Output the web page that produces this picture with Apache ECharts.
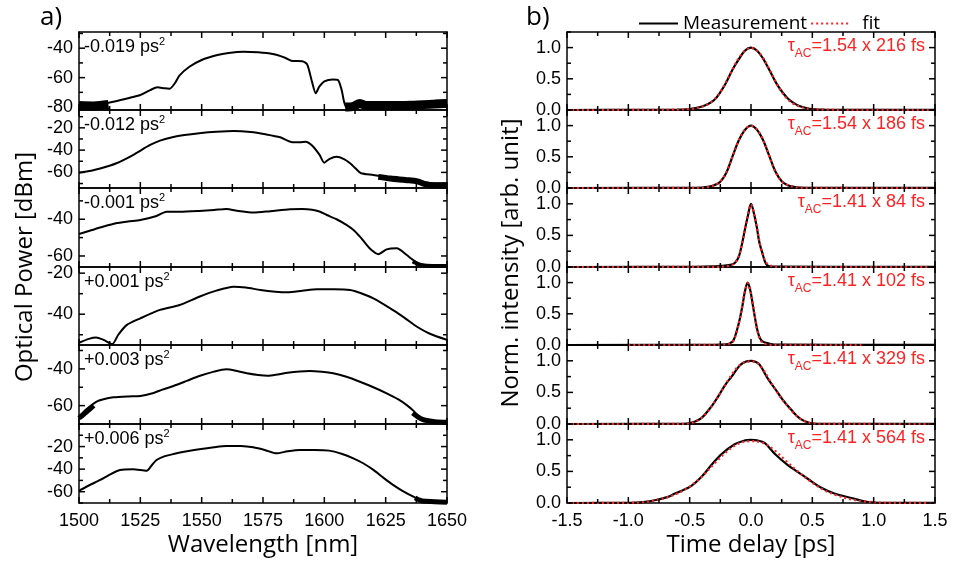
<!DOCTYPE html>
<html><head><meta charset="utf-8">
<script src="https://cdn.jsdelivr.net/npm/echarts@6/dist/echarts.min.js"></script>
<style>html,body{margin:0;padding:0;background:#fff}#c{width:953px;height:563px}</style>
</head><body><div id="c"></div>
<script>
// ---------------- DATA ----------------
const gddLabels = ['-0.019', '-0.012', '-0.001', '+0.001', '+0.003', '+0.006'];
const tauFactors = ['1.54', '1.54', '1.41', '1.41', '1.41', '1.41'];
const tauWidths = [216, 186, 84, 102, 329, 564];

const wavelengthRange = [1500, 1650];
const delayRange = [-1.5, 1.5];
const powerRanges = [[-82, -29], [-74, -4], [-66, -23], [-55, -17], [-70, -27], [-70, 0]];
const powerTickLabels = [[-80, -60, -40], [-60, -40, -20], [-60, -40], [-40, -20], [-60, -40], [-60, -40, -20]];
const intensityRange = [0, 1.25];
const intensityTickLabels = [0, 0.5, 1.0];

// spectra (wavelength nm, dBm)
const spec1 = [[1500,-78],[1505,-78],[1510,-77.5],[1515,-76],[1520,-74],[1525,-71.8],[1529,-68.5],[1532,-66.6],[1535,-67.3],[1537,-67.5],[1539,-64],[1541,-58.5],[1545,-52.6],[1550,-48],[1556,-44.8],[1561,-43.2],[1567,-42.4],[1573,-42.8],[1579,-44],[1584,-46.5],[1587,-48.7],[1591,-48.8],[1593,-51],[1595,-63],[1596.5,-70.6],[1598,-66],[1600,-62.5],[1603.5,-61.2],[1605.5,-61.5],[1607,-68],[1608,-76],[1609,-80],[1611,-80],[1613,-77],[1614.5,-76],[1616,-78.5],[1620,-79],[1630,-79],[1640,-78.5],[1650,-77.5]];
const spec2 = [[1500,-60.3],[1505,-58.5],[1509,-56.3],[1515,-52],[1522,-44.4],[1529,-35.4],[1533,-31.5],[1538,-28.5],[1543,-26.5],[1549,-24.9],[1556,-23.6],[1563,-22.9],[1570,-23.8],[1576,-25.8],[1582,-28.5],[1587,-33],[1590,-33],[1592.4,-32.4],[1595,-35.8],[1598,-44],[1600,-51.3],[1602,-48],[1605,-45.9],[1608,-48],[1610.5,-51.8],[1613,-57],[1615,-60.8],[1620,-62.3],[1625,-64],[1630,-65.5],[1635,-66.5],[1640,-68.5],[1645,-70],[1650,-70]];
const spec3 = [[1500,-48],[1505,-46],[1509,-44.4],[1515,-42.2],[1520,-41.2],[1525,-40.4],[1531.6,-38.2],[1535.7,-35.9],[1541,-35.9],[1549,-35.5],[1555,-35],[1560,-34.4],[1565,-35.5],[1571,-36.4],[1578,-35.6],[1586,-34.6],[1591,-34.4],[1595,-34.8],[1598,-35.8],[1601,-37.7],[1605,-40],[1609,-43.1],[1612,-46],[1614.5,-49.5],[1617,-53.5],[1619,-56.5],[1622,-59],[1625.4,-56.4],[1629.5,-55.8],[1633.6,-59.5],[1636,-62],[1639,-64.4],[1643,-65.5],[1650,-65.5]];
const spec4 = [[1500,-53.9],[1504,-52],[1507,-51.3],[1510,-52.5],[1513.6,-54.5],[1516,-50],[1519.4,-45.3],[1525,-42],[1533,-37.9],[1541,-35.5],[1549,-31.5],[1556,-28.5],[1563,-26.6],[1568,-27],[1574,-28.2],[1580,-29],[1585,-29.3],[1591,-28.6],[1597,-27.9],[1604,-27.9],[1610.5,-28.2],[1615,-29.8],[1620,-32.3],[1628,-38],[1633,-42],[1637.6,-46],[1643,-49.5],[1650,-52.5]];
const spec5 = [[1500,-66],[1503,-62],[1507,-57.9],[1510,-56.5],[1514,-55.5],[1520,-55],[1525,-54.8],[1530,-53.3],[1534,-51.3],[1538.5,-49.3],[1544,-46.5],[1549,-43.9],[1555,-41.5],[1560,-40.2],[1564,-41],[1568.4,-42.4],[1573,-43.3],[1577,-43.7],[1581,-43],[1585,-42.1],[1590,-41.4],[1594,-41.2],[1599,-41.6],[1603.6,-42.4],[1609,-44.3],[1614.5,-47],[1620,-50],[1625.4,-53.3],[1630,-56.5],[1633.6,-59.7],[1636.5,-63],[1639,-66.9],[1642,-68.5],[1650,-68.5]];
const spec6 = [[1500,-59.1],[1504,-54.5],[1508.6,-49.6],[1512,-45.5],[1516.7,-40.7],[1522,-40.1],[1527.6,-41.4],[1529.5,-37],[1531.6,-31.9],[1535,-28.5],[1538.5,-26.6],[1544,-24.2],[1549,-22.4],[1555,-20.6],[1560,-19.5],[1566,-19.6],[1571,-20.7],[1576,-23.2],[1580.5,-26],[1585,-24.2],[1590,-23],[1596,-23],[1602,-23.6],[1607,-26.4],[1611.8,-30.4],[1616,-35],[1620,-40.7],[1624,-47.5],[1628,-54],[1632,-59.5],[1636.3,-64.4],[1640,-68],[1645,-68.5],[1650,-69]];

// noisy floor segments (centre of the noise band)
const noise1a = [[1500,-79],[1506,-79.2],[1512,-78.3]];
const noise1b = [[1608.5,-80],[1612,-79.5],[1614.5,-77.5],[1617,-79],[1625,-79],[1635,-78.8],[1645,-78],[1650,-77.5]];
const noise2 = [[1622,-64],[1627,-65.5],[1633,-66.8],[1638,-68],[1641,-70.5],[1645,-71.5],[1650,-71.5]];
const noise3 = [[1636,-63],[1640,-65],[1650,-65.5]];
const noise5a = [[1500,-66.8],[1503,-63.5],[1506,-60]];
const noise5b = [[1636,-64],[1640,-67.5],[1645,-68.7],[1650,-69]];
const noise6 = [[1637,-65.5],[1640,-68.3],[1645,-68.8],[1650,-69.3]];

// autocorrelation traces (delay ps, normalized intensity)
const meas1 = [[-1.5,0],[-1.0,0.002],[-0.6,0.005],[-0.5,0.015],[-0.45,0.03],[-0.4,0.055],[-0.35,0.095],[-0.3,0.16],[-0.25,0.285],[-0.2,0.45],[-0.15,0.65],[-0.1,0.81],[-0.05,0.95],[0,1.0],[0.05,0.95],[0.1,0.82],[0.15,0.64],[0.2,0.45],[0.25,0.3],[0.3,0.185],[0.35,0.11],[0.4,0.06],[0.45,0.032],[0.5,0.015],[0.6,0.006],[1.0,0.003],[1.5,0.002]];
const fit1 = [[-1.5,0],[-1.0,0.001],[-0.6,0.006],[-0.5,0.016],[-0.45,0.028],[-0.4,0.052],[-0.35,0.095],[-0.3,0.17],[-0.25,0.29],[-0.2,0.46],[-0.15,0.65],[-0.1,0.83],[-0.05,0.95],[0,0.995],[0.05,0.95],[0.1,0.83],[0.15,0.65],[0.2,0.46],[0.25,0.29],[0.3,0.17],[0.35,0.095],[0.4,0.052],[0.45,0.028],[0.5,0.016],[0.6,0.006],[1.0,0.001],[1.5,0]];
const meas2 = [[-1.5,0],[-0.5,0.003],[-0.4,0.008],[-0.35,0.018],[-0.3,0.045],[-0.25,0.1],[-0.2,0.25],[-0.15,0.51],[-0.1,0.76],[-0.05,0.93],[0,1.0],[0.05,0.93],[0.1,0.76],[0.15,0.51],[0.2,0.26],[0.25,0.11],[0.3,0.045],[0.35,0.02],[0.4,0.008],[0.5,0.004],[1.5,0.002]];
const fit2 = [[-1.5,0],[-0.5,0.001],[-0.4,0.006],[-0.35,0.017],[-0.3,0.044],[-0.25,0.105],[-0.2,0.255],[-0.15,0.505],[-0.1,0.765],[-0.05,0.935],[0,0.995],[0.05,0.935],[0.1,0.765],[0.15,0.505],[0.2,0.255],[0.25,0.105],[0.3,0.044],[0.35,0.017],[0.4,0.006],[0.5,0.001],[1.5,0]];
const meas3 = [[-1.5,0],[-0.45,0.003],[-0.3,0.01],[-0.25,0.018],[-0.2,0.025],[-0.15,0.045],[-0.125,0.08],[-0.1,0.16],[-0.075,0.35],[-0.05,0.59],[-0.025,0.81],[0,1.0],[0.025,0.84],[0.05,0.6],[0.065,0.42],[0.08,0.3],[0.09,0.24],[0.1,0.17],[0.115,0.08],[0.13,0.03],[0.15,0.012],[0.2,0.005],[1.5,0.002]];
const fit3 = [[-1.5,0],[-0.3,0.002],[-0.2,0.012],[-0.15,0.04],[-0.125,0.08],[-0.1,0.17],[-0.075,0.36],[-0.05,0.6],[-0.025,0.83],[0,0.99],[0.025,0.84],[0.05,0.6],[0.075,0.35],[0.1,0.17],[0.125,0.07],[0.15,0.03],[0.2,0.005],[0.3,0],[1.5,0]];
const meas4 = [[-1.5,0],[-0.3,0.004],[-0.2,0.012],[-0.17,0.03],[-0.144,0.07],[-0.117,0.22],[-0.09,0.43],[-0.068,0.65],[-0.049,0.865],[-0.027,1.0],[-0.005,0.87],[0.014,0.65],[0.033,0.43],[0.054,0.22],[0.075,0.1],[0.1,0.05],[0.14,0.027],[0.21,0.005],[1.5,0.002]];
const fit4 = [[-1.0,0],[-0.3,0.001],[-0.2,0.01],[-0.15,0.05],[-0.117,0.21],[-0.09,0.43],[-0.068,0.66],[-0.049,0.86],[-0.027,0.99],[-0.005,0.86],[0.014,0.66],[0.033,0.43],[0.054,0.21],[0.08,0.07],[0.11,0.02],[0.2,0.002],[0.9,0]];
const meas5 = [[-1.5,0],[-0.6,0.002],[-0.55,0.004],[-0.5,0.015],[-0.45,0.045],[-0.4,0.1],[-0.334,0.25],[-0.3,0.34],[-0.266,0.44],[-0.21,0.62],[-0.158,0.75],[-0.09,0.93],[-0.04,0.99],[0,1.0],[0.04,0.98],[0.073,0.93],[0.14,0.71],[0.21,0.52],[0.26,0.38],[0.33,0.22],[0.4,0.085],[0.48,0.015],[0.55,0.004],[1.5,0.002]];
const fit5 = [[-1.5,0],[-0.6,0.001],[-0.5,0.012],[-0.45,0.04],[-0.4,0.1],[-0.35,0.2],[-0.3,0.34],[-0.25,0.49],[-0.2,0.65],[-0.15,0.8],[-0.1,0.92],[-0.05,0.98],[0,0.99],[0.05,0.97],[0.1,0.86],[0.15,0.7],[0.2,0.54],[0.25,0.4],[0.3,0.28],[0.35,0.17],[0.4,0.085],[0.45,0.035],[0.5,0.012],[0.6,0.002],[1.5,0]];
const meas6 = [[-1.5,0],[-1.0,0.002],[-0.95,0.005],[-0.88,0.015],[-0.785,0.043],[-0.677,0.097],[-0.62,0.15],[-0.568,0.19],[-0.486,0.27],[-0.405,0.41],[-0.323,0.6],[-0.242,0.77],[-0.133,0.93],[-0.05,0.99],[0,1.0],[0.05,0.99],[0.111,0.95],[0.193,0.78],[0.3,0.6],[0.383,0.49],[0.465,0.38],[0.573,0.24],[0.68,0.15],[0.818,0.08],[0.954,0.016],[1.09,0.003],[1.5,0.002]];
const fit6 = [[-1.5,0],[-1.0,0.003],[-0.9,0.01],[-0.8,0.035],[-0.7,0.08],[-0.6,0.15],[-0.5,0.26],[-0.4,0.42],[-0.3,0.62],[-0.2,0.81],[-0.1,0.94],[0,0.98],[0.1,0.95],[0.2,0.82],[0.3,0.64],[0.4,0.47],[0.5,0.32],[0.6,0.2],[0.7,0.12],[0.8,0.065],[0.9,0.03],[1.0,0.012],[1.1,0.004],[1.5,0]];

const spectra = [spec1, spec2, spec3, spec4, spec5, spec6];
const noiseSets = [[noise1a, noise1b], [noise2], [noise3], [], [noise5a, noise5b], [noise6]];
const measurements = [meas1, meas2, meas3, meas4, meas5, meas6];
const fits = [fit1, fit2, fit3, fit4, fit5, fit6];

// ---------------- CHART ----------------
const NUM = 'Liberation Sans, Arial, sans-serif';
const TXT = 'Open Sans, Liberation Sans, sans-serif';
const INK = '#000';
const RED = '#ff2222';
const EDGES = [32, 110, 188, 267, 345, 424, 503];
const PW = 368;
const noiseWidths = [[9, 9], [6], [4], [], [5, 5], [5]];

const grids = [], xAxes = [], yAxes = [], series = [], graphics = [];

function ax(g, pos, extra) {
  return Object.assign({
    gridIndex: g, position: pos, type: 'value',
    axisLine: { show: false, onZero: false, lineStyle: { color: INK, width: 1.5 } },
    splitLine: { show: false },
    axisTick: { show: false },
    minorTick: { show: false },
    axisLabel: { show: false }
  }, extra);
}
function lineOn() { return { show: true, onZero: false, lineStyle: { color: INK, width: 1.5 } }; }

function addPanel(left, top, height, xr, xInterval, xFmt, yr, yMajor, yFmt, showX) {
  const g = grids.length;
  grids.push({ left: left, top: top, width: PW, height: height });
  const xScale = { min: xr[0], max: xr[1], interval: xInterval };
  const xbi = xAxes.length;
  xAxes.push(ax(g, 'bottom', Object.assign({}, xScale, {
    axisLine: lineOn(),
    axisLabel: showX ? { show: true, formatter: xFmt, fontFamily: NUM, fontSize: 18, color: '#000', margin: 9 } : { show: false }
  })));
  xAxes.push(ax(g, 'top', Object.assign({}, xScale, { axisLine: lineOn() })));
  const yScale = { min: yr[0], max: yr[1] };
  const yli = yAxes.length;
  yAxes.push(ax(g, 'left', Object.assign({}, yScale, {
    axisLine: lineOn(),
    axisLabel: { show: true, customValues: yMajor, formatter: yFmt, fontFamily: NUM, fontSize: 18, color: '#000', margin: 6 }
  })));
  yAxes.push(ax(g, 'right', Object.assign({}, yScale, { axisLine: lineOn() })));

  // inward tick marks on all four edges, placed through the panel's own scales
  const ticks = [];
  const xStep = xInterval / 2;
  const nx = Math.round((xr[1] - xr[0]) / xStep);
  for (let k = 0; k <= nx; k++) {
    const v = +(xr[0] + k * xStep).toFixed(4);
    const len = k % 2 === 0 ? 6 : 4;
    ticks.push({ value: [v, yr[0]], symbolSize: [1.5, len], symbolOffset: [0, -len / 2] });
    ticks.push({ value: [v, yr[1]], symbolSize: [1.5, len], symbolOffset: [0, len / 2] });
  }
  const yStep = (yMajor[1] - yMajor[0]) / 2;
  for (let v = Math.ceil(yr[0] / yStep - 1e-9) * yStep; v <= yr[1] + 1e-9; v += yStep) {
    const val = +v.toFixed(4);
    const len = yMajor.some(m => Math.abs(m - val) < 1e-9) ? 6 : 4;
    ticks.push({ value: [xr[0], val], symbolSize: [len, 1.5], symbolOffset: [len / 2, 0] });
    ticks.push({ value: [xr[1], val], symbolSize: [len, 1.5], symbolOffset: [-len / 2, 0] });
  }
  series.push({
    type: 'scatter', xAxisIndex: xbi, yAxisIndex: yli, data: ticks, symbol: 'rect',
    itemStyle: { color: INK, opacity: 1 }, clip: false, silent: true, z: 6
  });
  return { x: xbi, y: yli };
}

for (let i = 0; i < 6; i++) {
  const top = EDGES[i], h = EDGES[i + 1] - EDGES[i];
  // ---- left panel (spectra)
  const a = addPanel(79, top, h, wavelengthRange, 25, v => String(v), powerRanges[i], powerTickLabels[i], v => String(v), i === 5);
  series.push({
    type: 'line', xAxisIndex: a.x, yAxisIndex: a.y, data: spectra[i], symbol: 'none', smooth: 0.25,
    lineStyle: { color: '#000', width: 2 }, clip: true, silent: true
  });
  noiseSets[i].forEach((nd, k) => {
    series.push({
      type: 'line', xAxisIndex: a.x, yAxisIndex: a.y, data: nd, symbol: 'none', smooth: 0.3,
      lineStyle: { color: '#000', width: noiseWidths[i][k] }, clip: true, silent: true
    });
  });
  graphics.push({
    type: 'text', x: 84, y: top + 15.5,
    style: {
      text: '{a|' + gddLabels[i] + ' ps}{s|2}', fill: '#000',
      align: 'left', verticalAlign: 'middle', textAlign: 'left', textVerticalAlign: 'middle',
      rich: {
        a: { fontFamily: NUM, fontSize: 18, lineHeight: 22, fill: '#000' },
        s: { fontFamily: NUM, fontSize: 11, lineHeight: 16, verticalAlign: 'top', fill: '#000' }
      }
    }
  });
  // ---- right panel (autocorrelation)
  const b = addPanel(567, top, h, delayRange, 0.5, v => v.toFixed(1), intensityRange, intensityTickLabels, v => v.toFixed(1), i === 5);
  series.push({
    name: 'Measurement', type: 'line', xAxisIndex: b.x, yAxisIndex: b.y, data: measurements[i], symbol: 'none', smooth: 0.35,
    lineStyle: { color: '#000', width: 2.2 }, itemStyle: { color: '#000' }, clip: true, z: 2
  });
  series.push({
    name: 'fit', type: 'line', xAxisIndex: b.x, yAxisIndex: b.y, data: fits[i], symbol: 'none', smooth: 0.35,
    lineStyle: { color: RED, width: 2.2, type: [2, 3] }, itemStyle: { color: RED }, clip: true, z: 3
  });
  graphics.push({
    type: 'text', x: 925, y: top + 16.5,
    style: {
      text: '{a|τ}{b|AC}{a|=' + tauFactors[i] + ' x ' + tauWidths[i] + ' fs}', fill: RED,
      align: 'right', verticalAlign: 'middle', textAlign: 'right', textVerticalAlign: 'middle',
      rich: {
        a: { fontFamily: NUM, fontSize: 18, lineHeight: 22, verticalAlign: 'top', fill: RED },
        b: { fontFamily: NUM, fontSize: 12, lineHeight: 12, verticalAlign: 'bottom', padding: [12, 0, 0, 0], fill: RED }
      }
    }
  });
}

// titles
const centerStyle = { fill: '#000', align: 'center', verticalAlign: 'middle', textAlign: 'center', textVerticalAlign: 'middle' };
graphics.push(
  { type: 'text', x: 40, y: 18, style: { text: 'a)', font: '26px ' + TXT, fill: '#000', align: 'left', verticalAlign: 'middle', textAlign: 'left', textVerticalAlign: 'middle' } },
  { type: 'text', x: 526, y: 18, style: { text: 'b)', font: '26px ' + TXT, fill: '#000', align: 'left', verticalAlign: 'middle', textAlign: 'left', textVerticalAlign: 'middle' } },
  { type: 'text', x: 263, y: 545, style: Object.assign({ text: 'Wavelength [nm]', font: '24px ' + TXT }, centerStyle) },
  { type: 'text', x: 751, y: 545, style: Object.assign({ text: 'Time delay [ps]', font: '24px ' + TXT }, centerStyle) },
  { type: 'text', x: 25, y: 267, rotation: Math.PI / 2, style: Object.assign({ text: 'Optical Power [dBm]', font: '24px ' + TXT }, centerStyle) },
  { type: 'text', x: 511, y: 263, rotation: Math.PI / 2, style: Object.assign({ text: 'Norm. intensity [arb. unit]', font: '24px ' + TXT }, centerStyle) }
);

const chart = echarts.init(document.getElementById('c'), null, { renderer: 'canvas' });
chart.setOption({
  animation: false,
  backgroundColor: '#fff',
  legend: {
    left: 633, top: 9, itemWidth: 39, itemHeight: 12, itemGap: 3, selectedMode: false,
    itemStyle: { opacity: 0 },
    textStyle: { fontFamily: TXT, fontSize: 19, color: '#000' },
    data: ['Measurement', { name: 'fit', textStyle: { padding: [0, 0, 0, 7] } }]
  },
  grid: grids, xAxis: xAxes, yAxis: yAxes, series: series,
  graphic: { elements: graphics }
});
</script></body></html>
